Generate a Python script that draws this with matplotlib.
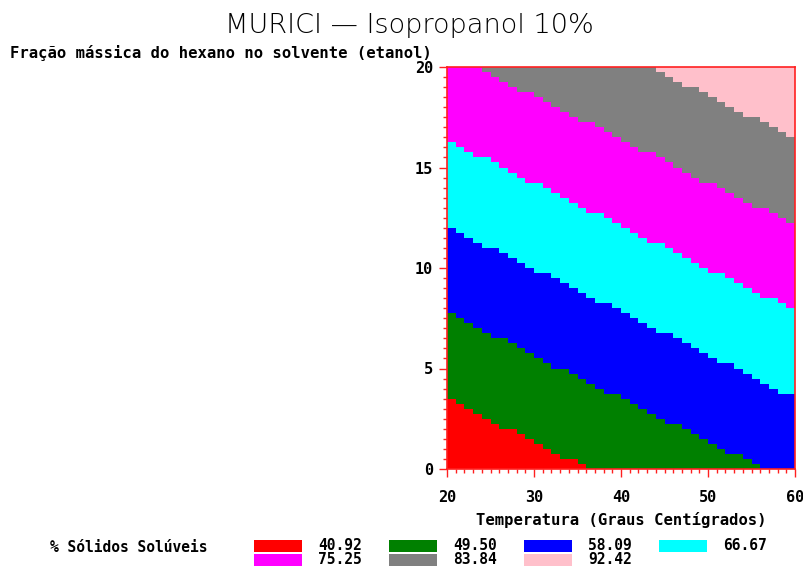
import numpy as np
import matplotlib.pyplot as plt
from matplotlib.colors import ListedColormap
from matplotlib.patches import Rectangle
from matplotlib.ticker import MultipleLocator


# ---------- data ----------
levels = [40.92, 49.50, 58.09, 66.67, 75.25, 83.84, 92.42]
level_labels = ["40.92", "49.50", "58.09", "66.67", "75.25", "83.84", "92.42"]
level_colors = ["#ff0000", "#008000", "#0000ff", "#00ffff",
                "#ff00ff", "#808080", "#ffc0cb"]

# response surface: solids = b0 + b_temp*T + b_hex*H
b0 = 29.71
b_temp = 0.426
b_hex = 2.0

# grid of the contour cells (temperature in C, hexane fraction in %)
temp_edges = np.arange(20.0, 60.0 + 0.5, 1.0)
hex_edges = np.arange(0.0, 20.0 + 0.125, 0.25)

title = "MURICI \u2014 Isopropanol 10%"
ylabel = "Fra\u00e7\u00e3o m\u00e1ssica do hexano no solvente (etanol)"
xlabel = "Temperatura (Graus Cent\u00edgrados)"
legend_title = "% S\u00f3lidos Sol\u00faveis"

RED = "#ff2020"
MONO = "DejaVu Sans Mono"


# ---------- surface ----------
tc = (temp_edges[:-1] + temp_edges[1:]) / 2
hc = (hex_edges[:-1] + hex_edges[1:]) / 2
T, H = np.meshgrid(tc, hc)
solids = b0 + b_temp * T + b_hex * H
band = np.abs(solids[..., None] - np.array(levels)).argmin(axis=-1)

# ---------- figure ----------
W, Hpx = 804, 568
fig = plt.figure(figsize=(W / 100, Hpx / 100), dpi=100)
ax = fig.add_axes([447 / W, 1 - 469 / Hpx, 348 / W, 402 / Hpx])

cmap = ListedColormap(level_colors)
ax.pcolormesh(temp_edges, hex_edges, band, cmap=cmap,
              vmin=-0.5, vmax=len(levels) - 0.5, shading="flat")

ax.set_xlim(20, 60)
ax.set_ylim(0, 20)
ax.xaxis.set_major_locator(MultipleLocator(10))
ax.xaxis.set_minor_locator(MultipleLocator(1))
ax.yaxis.set_major_locator(MultipleLocator(5))
ax.yaxis.set_minor_locator(MultipleLocator(0.5))
ax.tick_params(which="both", direction="out", color=RED, width=1)
ax.tick_params(which="major", length=6)
ax.tick_params(which="minor", length=3)
ax.tick_params(axis="x", pad=9)
ax.tick_params(axis="y", pad=4)
for lab in ax.get_xticklabels() + ax.get_yticklabels():
    lab.set_fontfamily(MONO)
    lab.set_fontweight("bold")
    lab.set_fontsize(11)
for sp in ax.spines.values():
    sp.set_color(RED)
    sp.set_linewidth(1.2)

fig.text(409 / W, 1 - 25 / Hpx, title, ha="center", va="center",
         fontsize=19.5, family="DejaVu Sans", fontweight="light")
fig.text(10 / W, 1 - 53 / Hpx, ylabel, ha="left", va="center",
         fontsize=11.2, family=MONO, fontweight="bold")
fig.text(621 / W, 1 - 520 / Hpx, xlabel, ha="center", va="center",
         fontsize=11.2, family=MONO, fontweight="bold")

# ---------- legend ----------
fig.text(50 / W, 1 - 547 / Hpx, legend_title, ha="left", va="center",
         fontsize=10.5, family=MONO, fontweight="bold")
for i, (lab, col) in enumerate(zip(level_labels, level_colors)):
    row, c = divmod(i, 4)
    x0 = 254 + 135 * c
    yc = 546 + 14 * row
    fig.patches.append(Rectangle((x0 / W, 1 - (yc + 6) / Hpx), 48 / W, 12 / Hpx,
                                 transform=fig.transFigure, facecolor=col,
                                 edgecolor="none"))
    fig.text((x0 + 64) / W, 1 - yc / Hpx, lab, ha="left", va="center",
             fontsize=10.5, family=MONO, fontweight="bold")

fig.savefig("out.png", dpi=100)
